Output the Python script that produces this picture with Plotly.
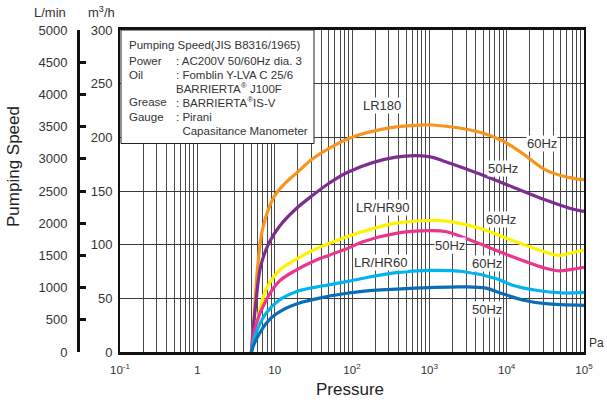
import plotly.graph_objects as go

# ---------------- data ----------------
series_names = ["LR180 60Hz", "LR180 50Hz", "LR/HR90 60Hz", "LR/HR90 50Hz", "LR/HR60 60Hz", "LR/HR60 50Hz"]
series_colors = ["#F7941D", "#7D2E8E", "#FFF200", "#EC368D", "#00B5EF", "#0A6DB5"]

p_lr180_60 = [5, 5.4, 6, 6.9, 8.5, 10.3, 14, 20, 31, 50, 91, 316, 800, 1100, 4400, 8700, 16000, 32000, 65000, 100000]
s_lr180_60 = [0, 32, 78, 113, 135, 147, 158, 168, 180, 189.5, 199, 209, 211.5, 211.5, 205, 197, 185, 169.5, 162.5, 160.5]

p_lr180_50 = [5, 5.7, 6.6, 8.5, 11.5, 18.6, 31, 50, 91, 370, 1000, 1660, 4400, 11700, 32000, 65000, 100000]
s_lr180_50 = [0, 45, 80, 102, 117, 133, 146, 157, 168, 181.5, 182, 177, 166, 154, 141.5, 134, 131]

p_hr90_60 = [5, 6, 7.7, 11.5, 18.6, 34, 50, 91, 135, 370, 1000, 1660, 4400, 11700, 32000, 48000, 65000, 100000]
s_hr90_60 = [0, 30, 58, 76, 86, 96, 101, 108, 112, 120, 122.5, 122, 115.5, 104, 93, 90, 92, 95]

p_hr90_50 = [5, 5.7, 7.7, 11.5, 18.6, 34, 50, 91, 135, 370, 1000, 1660, 4400, 11700, 32000, 48000, 70000, 100000]
s_hr90_50 = [0, 25, 48, 66, 76, 85.5, 90, 97, 102.5, 110.5, 113, 112, 101, 89, 78, 75.5, 77, 79]

p_hr60_60 = [5, 5.7, 7.7, 11.5, 18.6, 34, 50, 91, 135, 370, 1000, 2700, 7200, 11700, 24000, 52000, 100000]
s_hr60_60 = [0, 17, 36, 48.5, 56, 60.5, 62.5, 66, 68.5, 74, 76, 75, 68.5, 62.5, 57.5, 55, 55.5]

p_hr60_50 = [5, 5.7, 8.5, 12.6, 23, 46, 91, 135, 370, 1000, 2700, 5400, 8700, 16000, 32000, 100000]
s_hr60_50 = [0, 11, 30, 39, 46.5, 51.5, 55, 56.5, 58.5, 60, 60.7, 59.5, 54.5, 48.5, 45, 43.5]

pressures = [p_lr180_60, p_lr180_50, p_hr90_60, p_hr90_50, p_hr60_60, p_hr60_50]
speeds = [s_lr180_60, s_lr180_50, s_hr90_60, s_hr90_50, s_hr60_60, s_hr60_50]

x_tick_vals = [0.1, 1, 10, 100, 1000, 10000, 100000]
x_tick_text = ["10<sup>-1</sup>", "1", "10", "10<sup>2</sup>", "10<sup>3</sup>", "10<sup>4</sup>", "10<sup>5</sup>"]
x_minor_vals = [m * 10 ** e for e in range(-1, 5) for m in range(2, 10)]
m3h_ticks = [0, 50, 100, 150, 200, 250, 300]
lmin_ticks = [0, 500, 1000, 1500, 2000, 2500, 3000, 3500, 4000, 4500, 5000]

info_labels = ["Pumping Speed(JIS B8316/1965)", "Power", "Oil", "", "Grease", "Gauge", ""]
info_values = ["", ": AC200V 50/60Hz dia. 3", ": Fomblin Y-LVA C 25/6", "BARRIERTA<sup>®</sup> J100F",
               ": BARRIERTA<sup>®</sup>IS-V", ": Pirani", "  Capasitance Manometer"]

curve_labels = ["LR180", "60Hz", "50Hz", "LR/HR90", "60Hz", "50Hz", "LR/HR60", "60Hz", "50Hz"]

# ---------------- layout helpers (window pixels) ----------------
W, H = 607, 403
PL, PR, PT, PB = 120, 584, 30, 352          # plot box
DL = 60                                     # left edge of paper area
ML = DL
MT = PT
PWp = PR - DL
PH = PB - PT
MR = W - PR
MB = H - PB


def px(x):
    return (x - DL) / PWp


def py(y):
    return (PB - y) / PH


FONT = "Liberation Sans, Arial, sans-serif"

fig = go.Figure()
for name, col, p, s in zip(series_names, series_colors, pressures, speeds):
    fig.add_trace(go.Scatter(x=p, y=s, mode="lines", name=name,
                             line=dict(color=col, width=3.2, shape="spline", smoothing=1.0),
                             showlegend=False, hoverinfo="skip"))

fig.add_trace(go.Scatter(x=[1], y=[0], yaxis="y2", mode="markers",
                         marker=dict(opacity=0), showlegend=False, hoverinfo="skip"))

fig.update_layout(
    width=W, height=H,
    margin=dict(l=ML, r=MR, t=MT, b=MB, autoexpand=False),
    paper_bgcolor="white", plot_bgcolor="white",
    font=dict(family=FONT, color="#222", size=12),
    xaxis=dict(type="log", range=[-1, 5], domain=[px(PL), 1],
               tickmode="array", tickvals=x_tick_vals, ticktext=x_tick_text,
               showgrid=True, gridcolor="#4a4a4a", gridwidth=1,
               minor=dict(tickmode="array", tickvals=x_minor_vals, showgrid=True,
                          gridcolor="#4a4a4a", gridwidth=1, ticks=""),
               showline=True, linecolor="#111", linewidth=2.5, mirror=True,
               ticks="", ticklabelstandoff=5, tickfont=dict(size=11.5, color="#333"),
               zeroline=False),
    yaxis=dict(range=[0, 300], tickmode="array", tickvals=m3h_ticks,
               showgrid=True, gridcolor="#3a3a3a", gridwidth=1,
               showline=True, linecolor="#111", linewidth=2, mirror=True,
               ticks="", ticklabelstandoff=3, tickfont=dict(size=13, color="#333"),
               zeroline=False),
    yaxis2=dict(range=[0, 5000], overlaying="y", anchor="free", position=px(78), side="left",
                tickmode="array", tickvals=lmin_ticks,
                showgrid=False, zeroline=False,
                showline=True, linecolor="#111", linewidth=3,
                ticks="inside", ticklen=6, tickwidth=2.5, tickcolor="#111",
                ticklabelstandoff=7, tickfont=dict(size=13, color="#333")),
)

shapes = [dict(type="rect", xref="paper", yref="paper",
               x0=px(121), x1=px(314), y0=py(143.5), y1=py(30),
               line=dict(color="#222", width=1), fillcolor="white", layer="above")]
fig.update_layout(shapes=shapes)

ann = []
ann.append(dict(x=px(50), y=py(12.5), text="L/min", font=dict(size=13, color="#333")))
ann.append(dict(x=px(101), y=py(12.5), text="m<sup>3</sup>/h", font=dict(size=13, color="#333")))
ann.append(dict(x=px(13), y=py(167), text="Pumping Speed", textangle=-90,
                font=dict(size=17, color="#222")))
ann.append(dict(x=px(350), y=py(390), text="Pressure", font=dict(size=17, color="#222")))
ann.append(dict(x=px(596), y=py(343), text="Pa", font=dict(size=12, color="#333")))

line_ys = [45, 60.5, 74.5, 88, 101.5, 116.5, 130.5]
for lab, val, yy in zip(info_labels, info_values, line_ys):
    if lab:
        ann.append(dict(x=px(127), y=py(yy), text=lab, xanchor="left",
                        font=dict(size=11.5, color="#333")))
    if val:
        ann.append(dict(x=px(174), y=py(yy), text=val, xanchor="left",
                        font=dict(size=11.5, color="#333")))

label_pos = [(381.7, 105), (541.7, 143.3), (502.7, 168.5), (382.7, 207.3), (500.7, 219.5),
             (450, 246), (380.7, 262), (487.3, 263.5), (487.3, 309)]
for t, (lx, ly) in zip(curve_labels, label_pos):
    ann.append(dict(x=px(lx), y=py(ly), text=t, bgcolor="white", borderpad=0,
                    font=dict(size=13, color="#333")))

for a in ann:
    a.setdefault("xref", "paper")
    a.setdefault("yref", "paper")
    a.setdefault("showarrow", False)
    a.setdefault("xanchor", "center")
    a.setdefault("yanchor", "middle")
fig.update_layout(annotations=ann)

fig.write_html("out.html", config={"displayModeBar": False},
               post_script="document.body.style.margin='0';document.body.style.overflow='hidden';")
